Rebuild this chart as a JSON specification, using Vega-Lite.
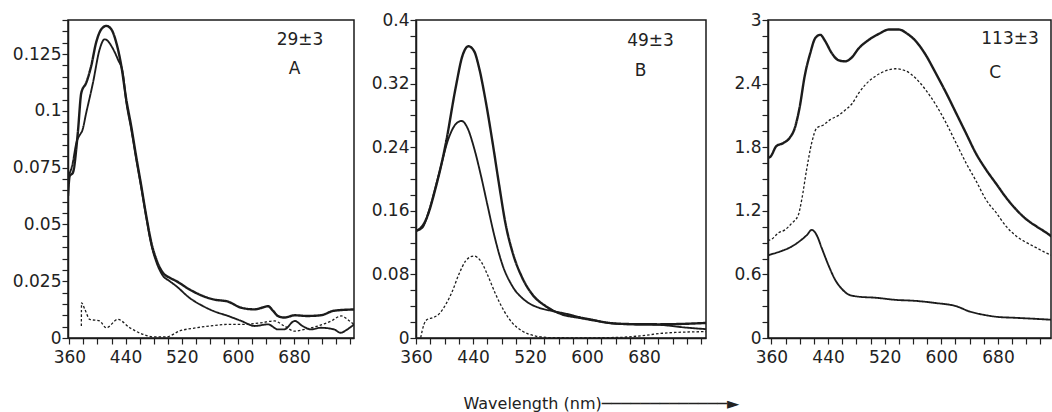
{
 "$schema": "https://vega.github.io/schema/vega-lite/v6.json",
 "padding": {"left": 11, "top": 10, "right": 0, "bottom": 0},
 "background": "white",
 "config": {
  "view": {"stroke": "#1a1a1a", "strokeWidth": 1.5},
  "axis": {"labelFont": "DejaVu Sans", "labelFontSize": 17, "labelColor": "#222", "tickColor": "#222", "tickWidth": 1.2, "tickSize": 6, "domainColor": "#1a1a1a", "domainWidth": 1.5, "grid": false, "labelOverlap": false, "labelPadding": 1},
  "axisX": {"labelFlush": false, "labelPadding": 5},
  "text": {"font": "DejaVu Sans", "fontSize": 17, "fill": "#222"}
 },
 "datasets": {
  "curves": [
   {"p":"A","s":"thick","x":358,"y":0.0625},{"p":"A","s":"thick","x":360.4,"y":0.0713},{"p":"A","s":"thick","x":365,"y":0.0728},{"p":"A","s":"thick","x":372,"y":0.0904},{"p":"A","s":"thick","x":377,"y":0.108},{"p":"A","s":"thick","x":384,"y":0.1124},{"p":"A","s":"thick","x":391,"y":0.1197},{"p":"A","s":"thick","x":398,"y":0.130},{"p":"A","s":"thick","x":405.4,"y":0.1359},{"p":"A","s":"thick","x":412.6,"y":0.1374},{"p":"A","s":"thick","x":419.7,"y":0.1359},{"p":"A","s":"thick","x":426.8,"y":0.130},{"p":"A","s":"thick","x":434,"y":0.1197},{"p":"A","s":"thick","x":441,"y":0.105},{"p":"A","s":"thick","x":448,"y":0.0933},{"p":"A","s":"thick","x":455,"y":0.0801},{"p":"A","s":"thick","x":462.4,"y":0.0669},{"p":"A","s":"thick","x":469.5,"y":0.0537},{"p":"A","s":"thick","x":476.7,"y":0.042},{"p":"A","s":"thick","x":483.8,"y":0.0346},{"p":"A","s":"thick","x":493,"y":0.0288},{"p":"A","s":"thick","x":503,"y":0.0265},{"p":"A","s":"thick","x":512,"y":0.0251},{"p":"A","s":"thick","x":531,"y":0.0214},{"p":"A","s":"thick","x":550,"y":0.0185},{"p":"A","s":"thick","x":565,"y":0.017},{"p":"A","s":"thick","x":586,"y":0.016},{"p":"A","s":"thick","x":605,"y":0.0133},{"p":"A","s":"thick","x":624,"y":0.0126},{"p":"A","s":"thick","x":636,"y":0.0135},{"p":"A","s":"thick","x":643,"y":0.014},{"p":"A","s":"thick","x":650,"y":0.012},{"p":"A","s":"thick","x":657,"y":0.0097},{"p":"A","s":"thick","x":666,"y":0.009},{"p":"A","s":"thick","x":681,"y":0.010},{"p":"A","s":"thick","x":699,"y":0.0097},{"p":"A","s":"thick","x":718,"y":0.010},{"p":"A","s":"thick","x":737,"y":0.012},{"p":"A","s":"thick","x":768,"y":0.0126},
   {"p":"A","s":"thin","x":358,"y":0.071},{"p":"A","s":"thin","x":364,"y":0.076},{"p":"A","s":"thin","x":370,"y":0.086},{"p":"A","s":"thin","x":376,"y":0.090},{"p":"A","s":"thin","x":378,"y":0.091},{"p":"A","s":"thin","x":384,"y":0.0992},{"p":"A","s":"thin","x":393.6,"y":0.1124},{"p":"A","s":"thin","x":403,"y":0.127},{"p":"A","s":"thin","x":410,"y":0.1315},{"p":"A","s":"thin","x":414,"y":0.131},{"p":"A","s":"thin","x":419.7,"y":0.1286},{"p":"A","s":"thin","x":429,"y":0.1227},{"p":"A","s":"thin","x":436,"y":0.1168},{"p":"A","s":"thin","x":441,"y":0.104},{"p":"A","s":"thin","x":448,"y":0.092},{"p":"A","s":"thin","x":455,"y":0.079},{"p":"A","s":"thin","x":462.4,"y":0.066},{"p":"A","s":"thin","x":469.5,"y":0.053},{"p":"A","s":"thin","x":476.7,"y":0.041},{"p":"A","s":"thin","x":483.8,"y":0.0335},{"p":"A","s":"thin","x":493,"y":0.0275},{"p":"A","s":"thin","x":503,"y":0.025},{"p":"A","s":"thin","x":512,"y":0.0229},{"p":"A","s":"thin","x":531,"y":0.0177},{"p":"A","s":"thin","x":550,"y":0.0141},{"p":"A","s":"thin","x":565,"y":0.0119},{"p":"A","s":"thin","x":586,"y":0.0097},{"p":"A","s":"thin","x":605,"y":0.0075},{"p":"A","s":"thin","x":624,"y":0.0053},{"p":"A","s":"thin","x":643,"y":0.006},{"p":"A","s":"thin","x":657,"y":0.0038},{"p":"A","s":"thin","x":666,"y":0.0038},{"p":"A","s":"thin","x":681,"y":0.0075},{"p":"A","s":"thin","x":692,"y":0.0053},{"p":"A","s":"thin","x":704,"y":0.0038},{"p":"A","s":"thin","x":718,"y":0.0045},{"p":"A","s":"thin","x":737,"y":0.0038},{"p":"A","s":"thin","x":746,"y":0.0023},{"p":"A","s":"thin","x":756,"y":0.0038},{"p":"A","s":"thin","x":768,"y":0.0067},
   {"p":"A","s":"dash","x":377,"y":0.0053},{"p":"A","s":"dash","x":377.3,"y":0.0155},{"p":"A","s":"dash","x":382,"y":0.0126},{"p":"A","s":"dash","x":389,"y":0.0082},{"p":"A","s":"dash","x":403,"y":0.0075},{"p":"A","s":"dash","x":412.6,"y":0.0045},{"p":"A","s":"dash","x":429,"y":0.0082},{"p":"A","s":"dash","x":446,"y":0.0045},{"p":"A","s":"dash","x":465,"y":0.0016},{"p":"A","s":"dash","x":479,"y":0.0005},{"p":"A","s":"dash","x":498,"y":0.0005},{"p":"A","s":"dash","x":517,"y":0.0031},{"p":"A","s":"dash","x":541,"y":0.0045},{"p":"A","s":"dash","x":560,"y":0.0053},{"p":"A","s":"dash","x":586,"y":0.006},{"p":"A","s":"dash","x":605,"y":0.006},{"p":"A","s":"dash","x":633,"y":0.0067},{"p":"A","s":"dash","x":652,"y":0.0075},{"p":"A","s":"dash","x":666,"y":0.0053},{"p":"A","s":"dash","x":681,"y":0.003},{"p":"A","s":"dash","x":695,"y":0.0038},{"p":"A","s":"dash","x":714,"y":0.0053},{"p":"A","s":"dash","x":733,"y":0.0075},{"p":"A","s":"dash","x":747,"y":0.0097},{"p":"A","s":"dash","x":759,"y":0.0075},{"p":"A","s":"dash","x":768,"y":0.0053},
   {"p":"B","s":"thick","x":359.4,"y":0.1346},{"p":"B","s":"thick","x":366,"y":0.138},{"p":"B","s":"thick","x":373.5,"y":0.148},{"p":"B","s":"thick","x":387.5,"y":0.189},{"p":"B","s":"thick","x":401.5,"y":0.2436},{"p":"B","s":"thick","x":415.6,"y":0.315},{"p":"B","s":"thick","x":425,"y":0.3547},{"p":"B","s":"thick","x":433.4,"y":0.367},{"p":"B","s":"thick","x":441.4,"y":0.361},{"p":"B","s":"thick","x":448.4,"y":0.340},{"p":"B","s":"thick","x":457.7,"y":0.298},{"p":"B","s":"thick","x":467,"y":0.248},{"p":"B","s":"thick","x":476.5,"y":0.193},{"p":"B","s":"thick","x":485.7,"y":0.143},{"p":"B","s":"thick","x":495,"y":0.109},{"p":"B","s":"thick","x":509,"y":0.0758},{"p":"B","s":"thick","x":523,"y":0.055},{"p":"B","s":"thick","x":542,"y":0.040},{"p":"B","s":"thick","x":565,"y":0.0298},{"p":"B","s":"thick","x":589,"y":0.0255},{"p":"B","s":"thick","x":607,"y":0.0226},{"p":"B","s":"thick","x":631,"y":0.019},{"p":"B","s":"thick","x":660,"y":0.0175},{"p":"B","s":"thick","x":701,"y":0.0172},{"p":"B","s":"thick","x":769,"y":0.019},
   {"p":"B","s":"thin","x":359.4,"y":0.1346},{"p":"B","s":"thin","x":368.8,"y":0.1387},{"p":"B","s":"thin","x":378,"y":0.160},{"p":"B","s":"thin","x":392,"y":0.206},{"p":"B","s":"thin","x":406,"y":0.252},{"p":"B","s":"thin","x":415.6,"y":0.269},{"p":"B","s":"thin","x":424,"y":0.273},{"p":"B","s":"thin","x":432,"y":0.2645},{"p":"B","s":"thin","x":441.4,"y":0.239},{"p":"B","s":"thin","x":450.6,"y":0.206},{"p":"B","s":"thin","x":460,"y":0.168},{"p":"B","s":"thin","x":469.5,"y":0.130},{"p":"B","s":"thin","x":481,"y":0.0927},{"p":"B","s":"thin","x":495,"y":0.0654},{"p":"B","s":"thin","x":514,"y":0.0465},{"p":"B","s":"thin","x":532.6,"y":0.038},{"p":"B","s":"thin","x":551,"y":0.034},{"p":"B","s":"thin","x":570,"y":0.0306},{"p":"B","s":"thin","x":589,"y":0.0264},{"p":"B","s":"thin","x":607.4,"y":0.023},{"p":"B","s":"thin","x":631,"y":0.0188},{"p":"B","s":"thin","x":660,"y":0.0172},{"p":"B","s":"thin","x":701,"y":0.0165},{"p":"B","s":"thin","x":740,"y":0.013},{"p":"B","s":"thin","x":769,"y":0.011},
   {"p":"B","s":"dash","x":366.5,"y":0.0005},{"p":"B","s":"dash","x":371,"y":0.017},{"p":"B","s":"dash","x":376,"y":0.0235},{"p":"B","s":"dash","x":383,"y":0.0255},{"p":"B","s":"dash","x":392,"y":0.030},{"p":"B","s":"dash","x":401.5,"y":0.042},{"p":"B","s":"dash","x":411,"y":0.059},{"p":"B","s":"dash","x":420,"y":0.080},{"p":"B","s":"dash","x":429.6,"y":0.0969},{"p":"B","s":"dash","x":436,"y":0.102},{"p":"B","s":"dash","x":441.4,"y":0.103},{"p":"B","s":"dash","x":450.6,"y":0.097},{"p":"B","s":"dash","x":460,"y":0.080},{"p":"B","s":"dash","x":471.7,"y":0.055},{"p":"B","s":"dash","x":483.5,"y":0.034},{"p":"B","s":"dash","x":495,"y":0.019},{"p":"B","s":"dash","x":509,"y":0.0088},{"p":"B","s":"dash","x":528,"y":0.0025},{"p":"B","s":"dash","x":551,"y":0.0004},{"p":"B","s":"dash","x":600,"y":0.0002},{"p":"B","s":"dash","x":650,"y":0.001},{"p":"B","s":"dash","x":678,"y":0.003},{"p":"B","s":"dash","x":706,"y":0.006},{"p":"B","s":"dash","x":724,"y":0.007},{"p":"B","s":"dash","x":769,"y":0.008},
   {"p":"C","s":"thick","x":355,"y":1.70},{"p":"C","s":"thick","x":358.6,"y":1.71},{"p":"C","s":"thick","x":367,"y":1.81},{"p":"C","s":"thick","x":377,"y":1.84},{"p":"C","s":"thick","x":386,"y":1.89},{"p":"C","s":"thick","x":393,"y":1.98},{"p":"C","s":"thick","x":400,"y":2.18},{"p":"C","s":"thick","x":407,"y":2.47},{"p":"C","s":"thick","x":415,"y":2.69},{"p":"C","s":"thick","x":422,"y":2.83},{"p":"C","s":"thick","x":429,"y":2.86},{"p":"C","s":"thick","x":436,"y":2.80},{"p":"C","s":"thick","x":445,"y":2.69},{"p":"C","s":"thick","x":455,"y":2.62},{"p":"C","s":"thick","x":464,"y":2.61},{"p":"C","s":"thick","x":474,"y":2.65},{"p":"C","s":"thick","x":483,"y":2.73},{"p":"C","s":"thick","x":497,"y":2.81},{"p":"C","s":"thick","x":512,"y":2.87},{"p":"C","s":"thick","x":526,"y":2.91},{"p":"C","s":"thick","x":540,"y":2.91},{"p":"C","s":"thick","x":552,"y":2.87},{"p":"C","s":"thick","x":564,"y":2.80},{"p":"C","s":"thick","x":578,"y":2.67},{"p":"C","s":"thick","x":592,"y":2.50},{"p":"C","s":"thick","x":607,"y":2.31},{"p":"C","s":"thick","x":621,"y":2.12},{"p":"C","s":"thick","x":635,"y":1.93},{"p":"C","s":"thick","x":649,"y":1.74},{"p":"C","s":"thick","x":663,"y":1.59},{"p":"C","s":"thick","x":678,"y":1.45},{"p":"C","s":"thick","x":692,"y":1.32},{"p":"C","s":"thick","x":706,"y":1.21},{"p":"C","s":"thick","x":720,"y":1.12},{"p":"C","s":"thick","x":735,"y":1.05},{"p":"C","s":"thick","x":749,"y":0.99},{"p":"C","s":"thick","x":761,"y":0.93},
   {"p":"C","s":"dash","x":355,"y":0.92},{"p":"C","s":"dash","x":360,"y":0.93},{"p":"C","s":"dash","x":369.5,"y":0.99},{"p":"C","s":"dash","x":379,"y":1.02},{"p":"C","s":"dash","x":388.4,"y":1.08},{"p":"C","s":"dash","x":398,"y":1.16},{"p":"C","s":"dash","x":402.7,"y":1.30},{"p":"C","s":"dash","x":409.8,"y":1.59},{"p":"C","s":"dash","x":416.9,"y":1.84},{"p":"C","s":"dash","x":424,"y":1.98},{"p":"C","s":"dash","x":433.5,"y":2.01},{"p":"C","s":"dash","x":443,"y":2.06},{"p":"C","s":"dash","x":454.8,"y":2.10},{"p":"C","s":"dash","x":464.3,"y":2.15},{"p":"C","s":"dash","x":473.8,"y":2.21},{"p":"C","s":"dash","x":483.3,"y":2.31},{"p":"C","s":"dash","x":492.8,"y":2.39},{"p":"C","s":"dash","x":507,"y":2.47},{"p":"C","s":"dash","x":521.2,"y":2.52},{"p":"C","s":"dash","x":535.4,"y":2.54},{"p":"C","s":"dash","x":549.7,"y":2.52},{"p":"C","s":"dash","x":563.9,"y":2.45},{"p":"C","s":"dash","x":578,"y":2.34},{"p":"C","s":"dash","x":592.3,"y":2.20},{"p":"C","s":"dash","x":606.6,"y":2.03},{"p":"C","s":"dash","x":620.8,"y":1.84},{"p":"C","s":"dash","x":635,"y":1.65},{"p":"C","s":"dash","x":649.2,"y":1.48},{"p":"C","s":"dash","x":663.5,"y":1.30},{"p":"C","s":"dash","x":677.7,"y":1.18},{"p":"C","s":"dash","x":692,"y":1.05},{"p":"C","s":"dash","x":706,"y":0.96},{"p":"C","s":"dash","x":720.4,"y":0.90},{"p":"C","s":"dash","x":734.6,"y":0.85},{"p":"C","s":"dash","x":748.8,"y":0.80},{"p":"C","s":"dash","x":761,"y":0.77},
   {"p":"C","s":"thin","x":355,"y":0.78},{"p":"C","s":"thin","x":360,"y":0.79},{"p":"C","s":"thin","x":374,"y":0.82},{"p":"C","s":"thin","x":388,"y":0.86},{"p":"C","s":"thin","x":403,"y":0.93},{"p":"C","s":"thin","x":410,"y":0.97},{"p":"C","s":"thin","x":417,"y":1.02},{"p":"C","s":"thin","x":424,"y":0.97},{"p":"C","s":"thin","x":431,"y":0.85},{"p":"C","s":"thin","x":441,"y":0.68},{"p":"C","s":"thin","x":450,"y":0.55},{"p":"C","s":"thin","x":460,"y":0.46},{"p":"C","s":"thin","x":469,"y":0.41},{"p":"C","s":"thin","x":483,"y":0.39},{"p":"C","s":"thin","x":507,"y":0.38},{"p":"C","s":"thin","x":535,"y":0.36},{"p":"C","s":"thin","x":564,"y":0.35},{"p":"C","s":"thin","x":592,"y":0.33},{"p":"C","s":"thin","x":621,"y":0.30},{"p":"C","s":"thin","x":640,"y":0.25},{"p":"C","s":"thin","x":659,"y":0.22},{"p":"C","s":"thin","x":678,"y":0.20},{"p":"C","s":"thin","x":706,"y":0.19},{"p":"C","s":"thin","x":735,"y":0.18},{"p":"C","s":"thin","x":761,"y":0.17}
  ],
  "notes": [
   {"p":"A","x":688.5,"y":0.1312,"t":"29±3"},{"p":"A","x":680.6,"y":0.1184,"t":"A"},
   {"p":"B","x":689,"y":0.3736,"t":"49±3"},{"p":"B","x":675,"y":0.3355,"t":"B"},
   {"p":"C","x":697,"y":2.818,"t":"113±3"},{"p":"C","x":676,"y":2.503,"t":"C"}
  ]
 },
 "bounds": "flush",
 "spacing": 62,
 "hconcat": [
  {
   "width": 286, "height": 318,
   "encoding": {
    "x": {"field": "x", "type": "quantitative", "scale": {"domain": [358, 765.4], "nice": false, "zero": false},
     "axis": {"title": null, "values": [360,380,400,420,440,460,480,500,520,540,560,580,600,620,640,660,680,700,720,740,760], "labelExpr": "datum.value <= 680 && (datum.value - 360) % 80 == 0 ? format(datum.value, 'd') : ''"}},
    "y": {"field": "y", "type": "quantitative", "scale": {"domain": [0, 0.14], "nice": false},
     "axis": {"title": null, "values": [0,0.005,0.01,0.015,0.02,0.025,0.03,0.035,0.04,0.045,0.05,0.055,0.06,0.065,0.07,0.075,0.08,0.085,0.09,0.095,0.1,0.105,0.11,0.115,0.12,0.125,0.13,0.135,0.14], "labelExpr": "round(datum.value*1000) % 25 == 0 ? format(datum.value, '~g') : ''"}}
   },
   "layer": [
    {"data": {"name": "curves"}, "transform": [{"filter": "datum.p == 'A'"}],
     "mark": {"type": "line", "clip": true, "interpolate": "monotone", "color": "#1c1c1c"},
     "encoding": {
      "strokeWidth": {"field": "s", "type": "nominal", "scale": {"domain": ["thick","thin","dash"], "range": [2.4, 1.3, 1.3]}, "legend": null},
      "strokeDash": {"field": "s", "type": "nominal", "scale": {"domain": ["thick","thin","dash"], "range": [[1,0],[1,0],[2.5,2]]}, "legend": null}
     }},
    {"data": {"name": "notes"}, "transform": [{"filter": "datum.p == 'A'"}],
     "mark": {"type": "text", "align": "center", "baseline": "middle"},
     "encoding": {"text": {"field": "t"}}}
   ]
  },
  {
   "width": 290, "height": 318,
   "encoding": {
    "x": {"field": "x", "type": "quantitative", "scale": {"domain": [359.9, 766.9], "nice": false, "zero": false},
     "axis": {"values": [360,380,400,420,440,460,480,500,520,540,560,580,600,620,640,660,680,700,720,740,760], "labelExpr": "datum.value <= 680 && (datum.value - 360) % 80 == 0 ? format(datum.value, 'd') : ''",
      "title": "Wavelength (nm)─────────────►", "titleFont": "DejaVu Sans", "titleFontSize": 16, "titleFontWeight": "normal", "titleColor": "#222", "titleAlign": "left", "titleAnchor": "start", "titleX": 47, "titleY": 70, "titleBaseline": "alphabetic"}},
    "y": {"field": "y", "type": "quantitative", "scale": {"domain": [0, 0.4], "nice": false},
     "axis": {"title": null, "values": [0,0.02,0.04,0.06,0.08,0.1,0.12,0.14,0.16,0.18,0.2,0.22,0.24,0.26,0.28,0.3,0.32,0.34,0.36,0.38,0.4], "labelExpr": "round(datum.value*100) % 8 == 0 ? format(datum.value, '~g') : ''"}}
   },
   "layer": [
    {"data": {"name": "curves"}, "transform": [{"filter": "datum.p == 'B'"}],
     "mark": {"type": "line", "clip": true, "interpolate": "monotone", "color": "#1c1c1c"},
     "encoding": {
      "strokeWidth": {"field": "s", "type": "nominal", "scale": {"domain": ["thick","thin","dash"], "range": [2.4, 1.3, 1.3]}, "legend": null},
      "strokeDash": {"field": "s", "type": "nominal", "scale": {"domain": ["thick","thin","dash"], "range": [[1,0],[1,0],[2.5,2]]}, "legend": null}
     }},
    {"data": {"name": "notes"}, "transform": [{"filter": "datum.p == 'B'"}],
     "mark": {"type": "text", "align": "center", "baseline": "middle"},
     "encoding": {"text": {"field": "t"}}}
   ]
  },
  {
   "width": 283, "height": 318,
   "encoding": {
    "x": {"field": "x", "type": "quantitative", "scale": {"domain": [355.2, 754.9], "nice": false, "zero": false},
     "axis": {"title": null, "values": [360,380,400,420,440,460,480,500,520,540,560,580,600,620,640,660,680,700,720,740], "labelExpr": "datum.value <= 680 && (datum.value - 360) % 80 == 0 ? format(datum.value, 'd') : ''"}},
    "y": {"field": "y", "type": "quantitative", "scale": {"domain": [0, 3], "nice": false},
     "axis": {"title": null, "values": [0,0.15,0.3,0.45,0.6,0.75,0.9,1.05,1.2,1.35,1.5,1.65,1.8,1.95,2.1,2.25,2.4,2.55,2.7,2.85,3], "labelExpr": "round(datum.value*100) % 60 == 0 ? format(datum.value, '~g') : ''"}}
   },
   "layer": [
    {"data": {"name": "curves"}, "transform": [{"filter": "datum.p == 'C'"}],
     "mark": {"type": "line", "clip": true, "interpolate": "monotone", "color": "#1c1c1c"},
     "encoding": {
      "strokeWidth": {"field": "s", "type": "nominal", "scale": {"domain": ["thick","thin","dash"], "range": [2.4, 1.3, 1.3]}, "legend": null},
      "strokeDash": {"field": "s", "type": "nominal", "scale": {"domain": ["thick","thin","dash"], "range": [[1,0],[1,0],[2.5,2]]}, "legend": null}
     }},
    {"data": {"name": "notes"}, "transform": [{"filter": "datum.p == 'C'"}],
     "mark": {"type": "text", "align": "center", "baseline": "middle"},
     "encoding": {"text": {"field": "t"}}}
   ]
  }
 ]
}
